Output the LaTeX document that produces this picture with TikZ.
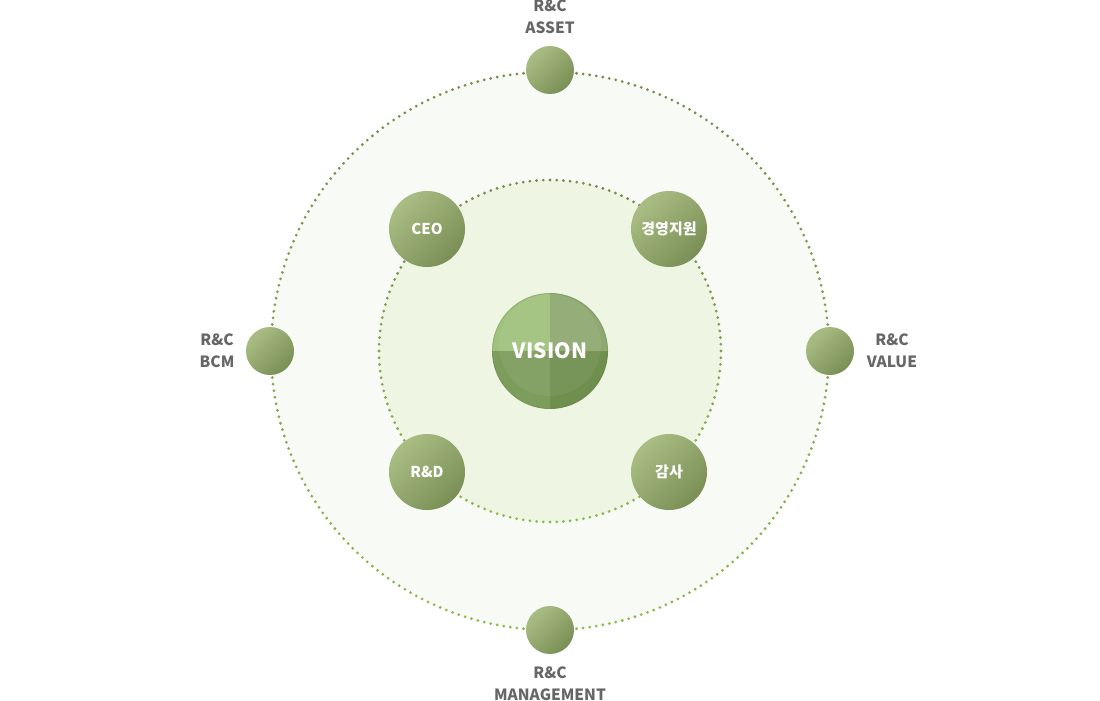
\documentclass[tikz,border=0pt]{standalone}
\usepackage{fontspec}
\usetikzlibrary{calc}
\setmainfont{Noto Sans CJK KR}
\definecolor{ballhi}{HTML}{A9BD85}
\definecolor{balllo}{HTML}{7A8F55}
\definecolor{outerfill}{HTML}{F8FAF5}
\definecolor{innerfill}{HTML}{EEF5E2}
\definecolor{dottop}{HTML}{7A8A4C}
\definecolor{dotbot}{HTML}{8EBA4A}
\definecolor{labelcol}{HTML}{666666}
\definecolor{visTL}{HTML}{9FC27D}
\definecolor{visTR}{HTML}{8FA871}
\definecolor{visBL}{HTML}{7D9D5D}
\definecolor{visBR}{HTML}{6F8F4E}
\tikzstyle{ball}=[circle, inner sep=0pt, top color=ballhi, bottom color=balllo, shading angle=45, text=white, font=\bfseries\fontsize{15}{18}\selectfont]
\tikzstyle{bigball}=[ball, minimum size=76pt]
\tikzstyle{smallball}=[ball, minimum size=48pt]
\tikzstyle{caption}=[align=center, text=labelcol, font=\bfseries\fontsize{15.5}{22}\selectfont]

\begin{document}
\begin{tikzpicture}[x=1pt,y=-1pt]
			\useasboundingbox (0,0) rectangle (1100,701);
			\coordinate (c) at (550,351);

			% Discs
			\fill[outerfill] (c) circle[radius=279pt];
			\fill[innerfill] (c) circle[radius=171pt];

			% Dotted rings
			\foreach \i in {0,...,263}{
				\pgfmathsetmacro\ang{\i/264*360}
				\pgfmathsetmacro\mx{50+50*sin(\ang)}
				\fill[dotbot!\mx!dottop] ($(c)+(\ang:279)$) circle[radius=1.55pt];
			}
			\foreach \i in {0,...,159}{
				\pgfmathsetmacro\ang{\i/160*360}
				\pgfmathsetmacro\mx{50+50*sin(\ang)}
				\fill[dotbot!\mx!dottop] ($(c)+(\ang:171)$) circle[radius=1.55pt];
			}

			% Vision
			\fill[visTL] (c) -- ++(-58,0) arc[start angle=180, end angle=90, radius=58pt] -- cycle;
			\fill[visTR] (c) -- ++(0,-58) arc[start angle=90, end angle=0, radius=58pt] -- cycle;
			\fill[visBR] (c) -- ++(58,0) arc[start angle=0, end angle=-90, radius=58pt] -- cycle;
			\fill[visBL] (c) -- ++(0,58) arc[start angle=-90, end angle=-180, radius=58pt] -- cycle;
			\fill[white, opacity=0.06] (550,345) circle[radius=51pt];
			\draw[visBR!80!black, opacity=0.18, line width=1pt] (c) circle[radius=57.5pt];
			\node[text=white, font=\bfseries\fontsize{21}{24}\selectfont] (vision) at (c) {VISION};

			% Inner balls
			\node[bigball] (ceo) at (427,229) {CEO};
			\node[bigball] (mgmt) at (669,229) {경영지원};
			\node[bigball] (rnd) at (427,472) {R\&D};
			\node[bigball] (audit) at (669,472) {감사};

			% Outer balls
			\node[smallball] (asset) at (550,70) {};
			\node[smallball] (bcm) at (270,351) {};
			\node[smallball] (value) at (830,351) {};
			\node[smallball] (manage) at (550,630) {};

			\node[caption] at (550,17) {R\&C\\ASSET};
			\node[caption] at (217,351) {R\&C\\BCM};
			\node[caption] at (892,351) {R\&C\\VALUE};
			\node[caption] at (550,684) {R\&C\\MANAGEMENT};
		\end{tikzpicture}
\end{document}
